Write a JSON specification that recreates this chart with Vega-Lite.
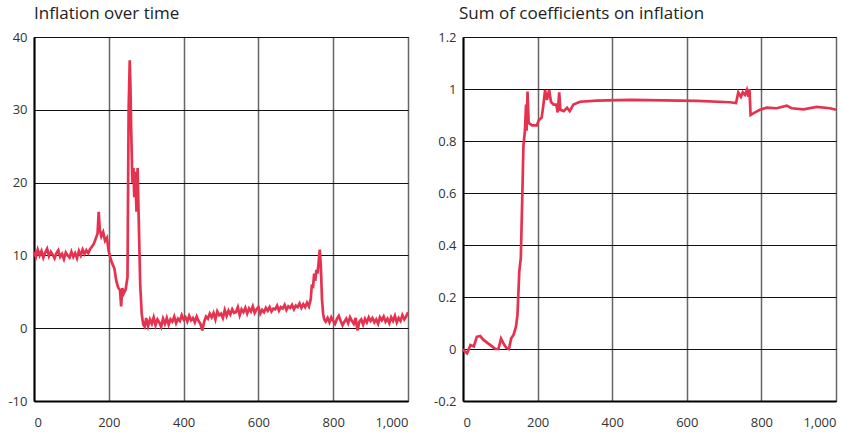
{
  "$schema": "https://vega.github.io/schema/vega-lite/v6.json",
  "padding": {"left": 7, "top": 4, "right": 0, "bottom": 3},
  "spacing": 19,
  "config": {
    "font": "Open Sans",
    "view": {"stroke": "#000", "strokeWidth": 1},
    "title": {"fontSize": 17, "fontWeight": "normal", "color": "#222", "anchor": "start", "frame": "group", "offset": 8},
    "axis": {"labelFontSize": 13, "labelColor": "#333", "ticks": false, "title": null, "domainColor": "#000", "domainWidth": 2, "labelExpr": "'' + datum.value"},
    "axisX": {"grid": true, "gridColor": "#666", "gridWidth": 1.5, "labelPadding": 15},
    "axisY": {"grid": true, "gridColor": "#111", "gridWidth": 1, "labelPadding": 7}
  },
  "datasets": {
    "infl": [
      {"t":0,"v":10.5},{"t":5,"v":9.8},{"t":10,"v":10.8},{"t":15,"v":10.0},{"t":20,"v":10.6},{"t":25,"v":9.7},{"t":30,"v":10.4},{"t":35,"v":10.9},{"t":40,"v":9.9},{"t":45,"v":10.5},
      {"t":50,"v":10.1},{"t":55,"v":9.6},{"t":60,"v":10.3},{"t":65,"v":10.7},{"t":70,"v":9.8},{"t":75,"v":10.2},{"t":80,"v":9.5},{"t":85,"v":10.4},{"t":90,"v":10.0},{"t":95,"v":9.7},
      {"t":100,"v":10.5},{"t":105,"v":9.8},{"t":110,"v":10.3},{"t":115,"v":9.6},{"t":120,"v":10.6},{"t":125,"v":10.0},{"t":130,"v":10.8},{"t":135,"v":10.2},{"t":140,"v":10.7},{"t":145,"v":10.3},
      {"t":150,"v":10.9},{"t":155,"v":11.2},{"t":160,"v":11.6},{"t":165,"v":12.3},{"t":170,"v":13.0},{"t":173,"v":16.0},{"t":176,"v":13.5},{"t":180,"v":12.6},{"t":185,"v":13.2},{"t":190,"v":12.0},
      {"t":195,"v":12.4},{"t":200,"v":10.5},{"t":205,"v":9.5},{"t":210,"v":8.8},{"t":215,"v":8.2},{"t":220,"v":6.5},{"t":225,"v":5.6},{"t":230,"v":5.2},{"t":233,"v":3.0},{"t":236,"v":5.5},
      {"t":240,"v":4.8},{"t":245,"v":5.3},{"t":250,"v":7.0},{"t":253,"v":30.0},{"t":256,"v":36.8},{"t":258,"v":33.0},{"t":260,"v":27.0},{"t":263,"v":20.0},{"t":266,"v":22.0},{"t":268,"v":18.0},
      {"t":271,"v":21.5},{"t":274,"v":16.0},{"t":277,"v":22.0},{"t":280,"v":15.0},{"t":284,"v":6.0},{"t":288,"v":2.0},{"t":292,"v":0.5},{"t":296,"v":0.2},{"t":300,"v":1.4},{"t":305,"v":0.3},
      {"t":310,"v":1.2},{"t":315,"v":0.6},{"t":320,"v":1.5},{"t":325,"v":0.4},{"t":330,"v":1.2},{"t":335,"v":0.8},{"t":340,"v":0.2},{"t":345,"v":1.3},{"t":350,"v":0.6},{"t":355,"v":1.4},
      {"t":360,"v":0.5},{"t":365,"v":1.2},{"t":370,"v":0.9},{"t":375,"v":1.6},{"t":380,"v":0.7},{"t":385,"v":1.3},{"t":390,"v":1.0},{"t":395,"v":1.8},{"t":400,"v":1.2},{"t":405,"v":1.5},
      {"t":410,"v":0.9},{"t":415,"v":1.7},{"t":420,"v":1.1},{"t":425,"v":1.4},{"t":430,"v":0.8},{"t":435,"v":1.6},{"t":440,"v":1.0},{"t":445,"v":0.6},{"t":450,"v":-0.3},{"t":455,"v":0.9},
      {"t":460,"v":1.6},{"t":465,"v":1.3},{"t":470,"v":2.0},{"t":475,"v":1.5},{"t":480,"v":2.1},{"t":485,"v":1.2},{"t":490,"v":2.3},{"t":495,"v":1.8},{"t":500,"v":2.0},{"t":505,"v":1.4},
      {"t":510,"v":2.5},{"t":515,"v":1.7},{"t":520,"v":2.4},{"t":525,"v":1.9},{"t":530,"v":2.6},{"t":535,"v":2.1},{"t":540,"v":2.2},{"t":545,"v":2.9},{"t":550,"v":1.8},{"t":555,"v":2.6},
      {"t":560,"v":2.2},{"t":565,"v":2.8},{"t":570,"v":2.0},{"t":575,"v":2.7},{"t":580,"v":2.3},{"t":585,"v":3.0},{"t":590,"v":2.1},{"t":595,"v":2.6},{"t":600,"v":2.9},{"t":605,"v":2.0},
      {"t":610,"v":2.5},{"t":615,"v":2.2},{"t":620,"v":2.8},{"t":625,"v":2.4},{"t":630,"v":2.9},{"t":635,"v":2.3},{"t":640,"v":2.7},{"t":645,"v":2.6},{"t":650,"v":3.1},{"t":655,"v":2.4},
      {"t":660,"v":2.9},{"t":665,"v":2.7},{"t":670,"v":3.2},{"t":675,"v":2.5},{"t":680,"v":3.0},{"t":685,"v":2.8},{"t":690,"v":3.2},{"t":695,"v":2.6},{"t":700,"v":3.1},{"t":705,"v":2.9},
      {"t":710,"v":3.4},{"t":715,"v":2.8},{"t":720,"v":3.3},{"t":725,"v":2.9},{"t":730,"v":3.5},{"t":735,"v":3.0},{"t":740,"v":4.0},{"t":743,"v":6.0},{"t":746,"v":5.5},{"t":749,"v":7.5},
      {"t":752,"v":6.5},{"t":755,"v":8.0},{"t":758,"v":7.5},{"t":761,"v":9.0},{"t":764,"v":10.8},{"t":767,"v":8.5},{"t":770,"v":4.0},{"t":773,"v":2.0},{"t":776,"v":1.2},{"t":780,"v":0.9},
      {"t":785,"v":1.4},{"t":790,"v":0.8},{"t":795,"v":1.5},{"t":800,"v":1.0},{"t":805,"v":0.6},{"t":810,"v":1.3},{"t":815,"v":1.7},{"t":820,"v":1.0},{"t":825,"v":0.4},{"t":830,"v":0.9},
      {"t":835,"v":1.3},{"t":840,"v":0.7},{"t":845,"v":1.5},{"t":850,"v":1.0},{"t":855,"v":0.6},{"t":860,"v":1.4},{"t":865,"v":-0.3},{"t":870,"v":0.9},{"t":875,"v":1.2},{"t":880,"v":0.5},
      {"t":885,"v":1.3},{"t":890,"v":0.8},{"t":895,"v":1.5},{"t":900,"v":1.0},{"t":905,"v":1.4},{"t":910,"v":0.8},{"t":915,"v":1.2},{"t":920,"v":0.6},{"t":925,"v":1.5},{"t":930,"v":1.1},
      {"t":935,"v":1.6},{"t":940,"v":0.9},{"t":945,"v":1.3},{"t":950,"v":0.7},{"t":955,"v":1.5},{"t":960,"v":1.0},{"t":965,"v":1.7},{"t":970,"v":0.8},{"t":975,"v":1.4},{"t":980,"v":1.0},
      {"t":985,"v":1.8},{"t":990,"v":1.2},{"t":995,"v":1.6},{"t":1000,"v":2.2}
    ],
    "coef": [
      {"t":0,"v":0.0},{"t":5,"v":-0.01},{"t":11,"v":-0.017},{"t":20,"v":0.015},{"t":29,"v":0.01},{"t":37,"v":0.047},{"t":46,"v":0.05},{"t":55,"v":0.035},{"t":69,"v":0.02},{"t":78,"v":0.01},
      {"t":87,"v":0.0},{"t":95,"v":0.0},{"t":102,"v":0.04},{"t":109,"v":0.02},{"t":116,"v":0.005},{"t":123,"v":0.0},{"t":129,"v":0.04},{"t":136,"v":0.056},{"t":142,"v":0.086},{"t":146,"v":0.13},
      {"t":151,"v":0.3},{"t":155,"v":0.35},{"t":159,"v":0.59},{"t":162,"v":0.78},{"t":166,"v":0.84},{"t":169,"v":0.94},{"t":170.5,"v":0.84},{"t":173,"v":0.99},{"t":176,"v":0.87},{"t":185,"v":0.86},
      {"t":198,"v":0.86},{"t":203,"v":0.88},{"t":211,"v":0.89},{"t":216,"v":0.945},{"t":220,"v":0.996},{"t":225,"v":0.958},{"t":231,"v":0.996},{"t":236,"v":0.95},{"t":243,"v":0.94},{"t":250,"v":0.94},
      {"t":254,"v":0.91},{"t":258,"v":0.987},{"t":261,"v":0.92},{"t":270,"v":0.915},{"t":279,"v":0.928},{"t":286,"v":0.915},{"t":296,"v":0.94},{"t":314,"v":0.951},{"t":359,"v":0.955},{"t":448,"v":0.958},
      {"t":538,"v":0.956},{"t":627,"v":0.954},{"t":716,"v":0.949},{"t":732,"v":0.946},{"t":738,"v":0.987},{"t":745,"v":0.97},{"t":750,"v":0.987},{"t":756,"v":0.977},{"t":761,"v":0.996},{"t":765,"v":0.97},
      {"t":768,"v":1.0},{"t":771,"v":0.9},{"t":783,"v":0.91},{"t":796,"v":0.92},{"t":814,"v":0.928},{"t":841,"v":0.926},{"t":868,"v":0.936},{"t":881,"v":0.926},{"t":913,"v":0.922},{"t":948,"v":0.931},
      {"t":984,"v":0.926},{"t":1000,"v":0.92}
    ]
  },
  "hconcat": [
    {
      "title": "Inflation over time",
      "width": 374,
      "height": 364,
      "layer": [
        {
          "mark": {"type": "rule", "color": "#000", "strokeWidth": 3},
          "encoding": {"y": {"datum": 0, "type": "quantitative", "scale": {"domain": [-10, 40], "nice": false}}}
        },
        {
          "data": {"name": "infl"},
          "mark": {"type": "line", "color": "#e5334f", "strokeWidth": 2.7},
          "encoding": {
            "x": {"field": "t", "type": "quantitative", "scale": {"domain": [0, 1000], "nice": false}, "axis": {"values": [0, 200, 400, 600, 800, 1000], "labelExpr": "format(datum.value, ',')"}},
            "y": {"field": "v", "type": "quantitative", "scale": {"domain": [-10, 40], "nice": false}, "axis": {"values": [-10, 0, 10, 20, 30, 40]}}
          }
        }
      ]
    },
    {
      "title": {"text": "Sum of coefficients on inflation", "dx": -4},
      "width": 373,
      "height": 364,
      "layer": [
        {
          "mark": {"type": "rule", "color": "#000", "strokeWidth": 3},
          "encoding": {"y": {"datum": 0, "type": "quantitative", "scale": {"domain": [-0.2, 1.2], "nice": false}}}
        },
        {
          "data": {"name": "coef"},
          "mark": {"type": "line", "color": "#e5334f", "strokeWidth": 2.7},
          "encoding": {
            "x": {"field": "t", "type": "quantitative", "scale": {"domain": [0, 1000], "nice": false}, "axis": {"values": [0, 200, 400, 600, 800, 1000], "labelExpr": "format(datum.value, ',')"}},
            "y": {"field": "v", "type": "quantitative", "scale": {"domain": [-0.2, 1.2], "nice": false}, "axis": {"values": [-0.2, 0, 0.2, 0.4, 0.6, 0.8, 1, 1.2]}}
          }
        }
      ]
    }
  ]
}
